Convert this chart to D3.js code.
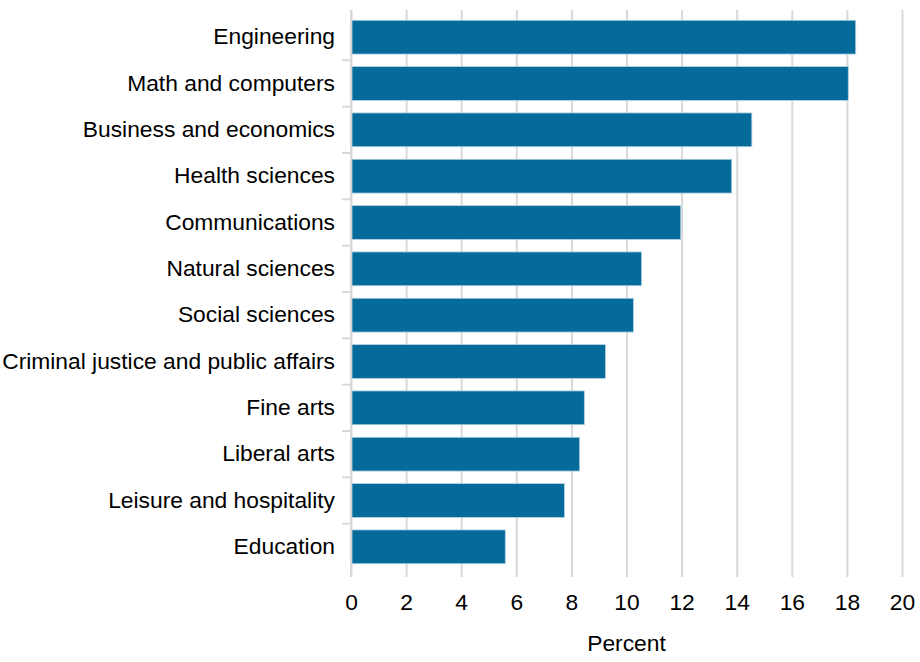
<!DOCTYPE html>
<html>
<head>
<meta charset="utf-8">
<script src="https://d3js.org/d3.v7.min.js"></script>
<style>
  body { margin: 0; background: #fff; }
  text { font-family: "Liberation Sans", Arial, sans-serif; fill: #000; }
</style>
</head>
<body>
<div id="chart"></div>
<script>
const categories = ['Engineering', 'Math and computers', 'Business and economics', 'Health sciences',
  'Communications', 'Natural sciences', 'Social sciences', 'Criminal justice and public affairs',
  'Fine arts', 'Liberal arts', 'Leisure and hospitality', 'Education'];
const values = [18.32, 18.05, 14.55, 13.82, 11.97, 10.55, 10.25, 9.24, 8.47, 8.3, 7.75, 5.6];
const xTicks = [0, 2, 4, 6, 8, 10, 12, 14, 16, 18, 20];

const width = 920, height = 662;
const margin = { top: 14, right: 18, bottom: 92, left: 351 };
const innerW = width - margin.left - margin.right,
  innerH = height - margin.top - margin.bottom;
const fontSize = '22.8px';

let svg = d3.select('#chart')
  .append('svg')
  .attr('width', width)
  .attr('height', height)
  .append('g')
  .attr('transform', 'translate(' + margin.left + ',' + margin.top + ')');

let x = d3.scaleLinear().domain([0, 20]).range([0, innerW]);
let y = d3.scaleBand().domain(categories).range([0, innerH]).paddingInner(0.27).paddingOuter(0.135);

// gridlines + tick labels
let xAxis = svg.append('g')
  .attr('transform', 'translate(0,' + (innerH + 7) + ')')
  .call(d3.axisBottom(x).tickValues(xTicks).tickSize(-(innerH + 11)).tickPadding(17));
xAxis.select('.domain').remove();
xAxis.selectAll('line').attr('stroke', '#d9d9d9').attr('stroke-width', 2);
xAxis.selectAll('text').style('font-size', fontSize).attr('dy', '0.71em');

// category axis
let yAxis = svg.append('g').call(d3.axisLeft(y).tickSize(0).tickPadding(16));
yAxis.select('.domain').attr('stroke', '#d9d9d9').attr('stroke-width', 2)
  .attr('d', 'M0,-4V' + (innerH + 7));
yAxis.selectAll('text').style('font-size', fontSize);

// separator ticks between categories
svg.selectAll('.sep')
  .data(categories.slice(1))
  .enter()
  .append('line')
  .attr('x1', -9)
  .attr('x2', 0)
  .attr('y1', d => y(d) - y.step() * y.paddingInner() / 2)
  .attr('y2', d => y(d) - y.step() * y.paddingInner() / 2)
  .attr('stroke', '#d9d9d9')
  .attr('stroke-width', 2);

// bars
svg.selectAll('.bar')
  .data(categories)
  .enter()
  .append('rect')
  .attr('x', 1)
  .attr('y', d => y(d))
  .attr('width', (d, i) => x(values[i]) - 1)
  .attr('height', y.bandwidth())
  .attr('fill', '#056b9b')
  .attr('stroke', '#b9d3e2')
  .attr('stroke-width', 0.8);

svg.append('text')
  .attr('x', innerW / 2)
  .attr('y', innerH + 81)
  .style('text-anchor', 'middle')
  .style('font-size', fontSize)
  .text('Percent');
</script>
</body>
</html>
